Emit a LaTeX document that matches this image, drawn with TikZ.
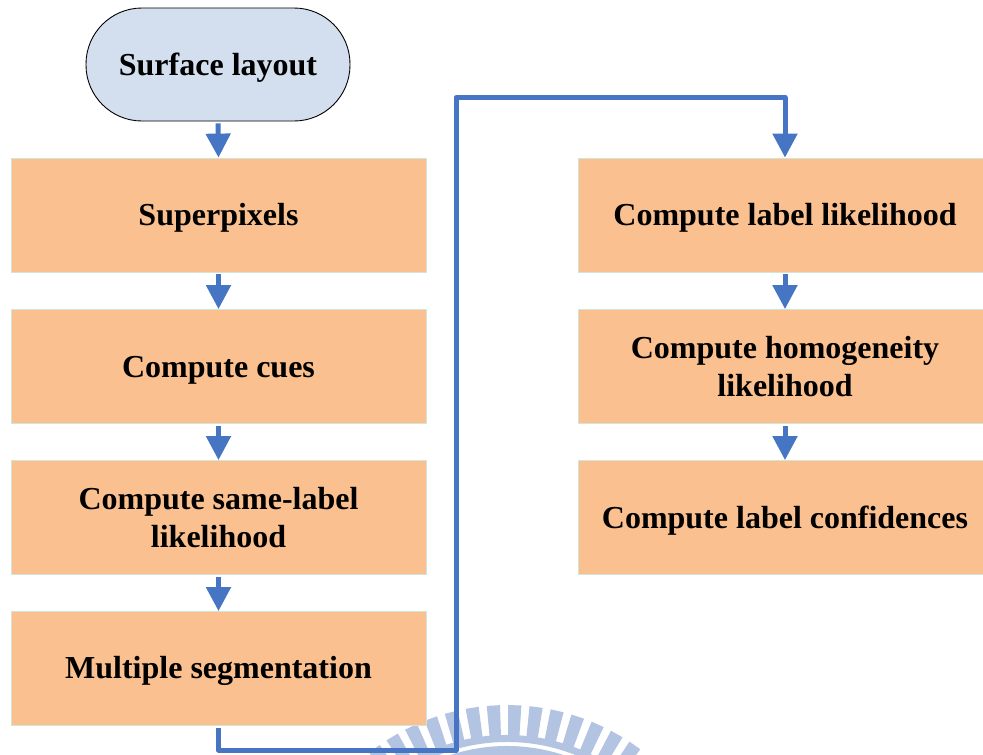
\documentclass[tikz,border=0pt]{standalone}
\usepackage{fontspec}
\setmainfont{Liberation Serif}
\usetikzlibrary{arrows.meta}
\definecolor{stepfill}{HTML}{FAC08F}
\definecolor{stepedge}{HTML}{D3E6D6}
\definecolor{termfill}{HTML}{D3DFEE}
\definecolor{flowblue}{HTML}{4675C4}
\definecolor{sealblue}{HTML}{B3C3E2}
\tikzset{
  stepbox/.style={rectangle, draw=stepedge, line width=0.8pt, fill=stepfill,
    minimum width=415pt, minimum height=114pt, inner sep=0pt, align=center,
    font=\fontsize{32}{38}\selectfont\bfseries},
  oneline/.style={text height=28pt},
  termbox/.style={rectangle, rounded corners=56pt, draw=black, line width=0.9pt,
    fill=termfill, minimum width=264pt, minimum height=113pt, inner sep=0pt,
    align=center, text height=28pt, font=\fontsize{32}{38}\selectfont\bfseries},
  flow/.style={draw=flowblue, line width=5pt, line join=round,
    -{Triangle[width=24pt,length=24pt]}},
  seal/.style={fill=sealblue}
}
\begin{document}
\begin{tikzpicture}[x=1pt,y=-1pt]
\useasboundingbox (0,0) rectangle (983,755);

% faint seal in the page background
\begin{scope}[shift={(507,928)}]
  \foreach \a in {-126.5,-121,...,-50} {
    \fill[seal] (\a-1.7:190) -- (\a-1.7:223) -- (\a+1.7:223) -- (\a+1.7:190) -- cycle;
  }
  \fill[seal] (-150:186) arc[start angle=-150, end angle=-30, radius=186]
     -- (-30:193) arc[start angle=-30, end angle=-150, radius=193] -- cycle;
  \fill[seal] (-150:150) arc[start angle=-150, end angle=-30, radius=150]
     -- (-30:182) arc[start angle=-30, end angle=-150, radius=182] -- cycle;
\end{scope}

% start terminal
\node[termbox] (start) at (218,64.5) {Surface layout};

% left column
\node[stepbox, oneline] (sp)  at (218.5,215)   {Superpixels};
\node[stepbox, oneline] (cue) at (218.5,366.5) {Compute cues};
\node[stepbox] (same) at (218.5,517.5) {Compute same-label\\likelihood};
\node[stepbox, oneline] (seg) at (218.5,668.5) {Multiple segmentation};

% right column
\node[stepbox, oneline, minimum width=414pt] (lab)  at (785,215)   {Compute label likelihood};
\node[stepbox, minimum width=414pt] (homo) at (785,366.5) {Compute homogeneity\\likelihood};
\node[stepbox, oneline, minimum width=414pt] (conf) at (785,517.5) {Compute label confidences};

% connectors
\draw[flow] ([yshift=-2pt]start.south) -- (sp.north);
\draw[flow] ([yshift=-2pt]sp.south) -- (cue.north);
\draw[flow] ([yshift=-2pt]cue.south) -- (same.north);
\draw[flow] ([yshift=-2pt]same.south) -- (seg.north);
\draw[flow] ([yshift=-2pt]lab.south) -- (homo.north);
\draw[flow] ([yshift=-2pt]homo.south) -- (conf.north);

\coordinate (c1) at (218.5,750);
\coordinate (c2) at (456,750);
\coordinate (c3) at (456,97.5);
\coordinate (c4) at (785,97.5);
\draw[flow] ([yshift=-2pt]seg.south) -- (c1) -- (c2) -- (c3) -- (c4) -- (lab.north);
\end{tikzpicture}
\end{document}
